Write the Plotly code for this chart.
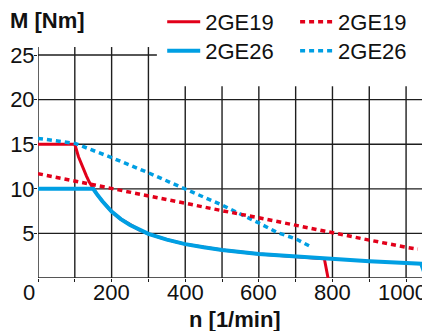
import plotly.graph_objects as go

# ---------------- data ----------------
rpm_19_solid = [0, 100, 110, 120, 132, 140, 150, 160, 175, 200, 225, 250, 275, 300, 350, 400, 450, 500, 600, 700, 778, 788]
m_19_solid   = [15, 15, 13.6, 12.5, 11.4, 10.7, 10.05, 9.4, 8.6, 7.45, 6.6, 5.95, 5.4, 4.95, 4.3, 3.8, 3.45, 3.15, 2.7, 2.42, 2.15, 0]

rpm_26_solid = [0, 150, 160, 175, 200, 225, 250, 275, 300, 350, 400, 450, 500, 600, 700, 800, 900, 1000, 1041, 1055]
m_26_solid   = [10, 10, 9.4, 8.6, 7.45, 6.6, 5.95, 5.4, 4.95, 4.3, 3.8, 3.45, 3.15, 2.7, 2.42, 2.08, 1.87, 1.68, 1.6, 0]

rpm_19_dot = [0, 100, 200, 300, 400, 500, 600, 700, 800, 900, 1000, 1032]
m_19_dot   = [11.7, 10.85, 10.0, 9.2, 8.4, 7.55, 6.75, 5.9, 5.1, 4.25, 3.45, 3.24]

rpm_26_dot = [0, 100, 200, 300, 400, 500, 600, 650, 700, 737]
m_26_dot   = [15.66, 15.1, 13.5, 11.8, 9.98, 8.18, 6.17, 5.1, 4.4, 3.6]

series_names = ["2GE19", "2GE26"]

x_tick_vals = [0, 100, 200, 300, 400, 500, 600, 700, 800, 900, 1000]
x_tick_text = ["0", "", "200", "", "400", "", "600", "", "800", "", "1000"]
y_tick_vals = [5, 10, 15, 20, 25]
y_tick_text = ["5", "10", "15", "20", "25"]

x_title = "n [1/min]"
y_title = "M [Nm]"

# ---------------- style / layout ----------------
RED = "#e2001a"
BLUE = "#009fe3"
GRID = "#1e1e1e"
TXT = "#111111"
FONT = "Liberation Sans"
FS = 22
W, H = 430, 331
OFF = 8  # page body margin of the browser page
# pixel positions below are window coordinates, shifted by OFF into figure coordinates
ML = 37.7 - OFF
MT = 40 - OFF
MB = H - (278.3 - OFF)
MR = OFF
PW, PH = W - ML - MR, H - MT - MB


def px_x(p):
    return (p - OFF - ML) / PW


def px_y(p):
    return (H - MB - (p - OFF)) / PH


fig = go.Figure()

fig.add_trace(go.Scatter(x=rpm_19_solid, y=m_19_solid, mode="lines", name=series_names[0],
                         line=dict(color=RED, width=3), legend="legend"))
fig.add_trace(go.Scatter(x=rpm_26_solid, y=m_26_solid, mode="lines", name=series_names[1],
                         line=dict(color=BLUE, width=4), legend="legend3"))
fig.add_trace(go.Scatter(x=rpm_26_dot, y=m_26_dot, mode="lines", name=series_names[1],
                         line=dict(color=BLUE, width=3.5, dash="5px,4px"), legend="legend4"))
fig.add_trace(go.Scatter(x=rpm_19_dot, y=m_19_dot, mode="lines", name=series_names[0],
                         line=dict(color=RED, width=3.5, dash="5px,4px"), legend="legend2"))

# grid lines (partial, as in the reference)
shapes = []
for v in x_tick_vals:
    top = 25.9 if v <= 300 else 21.5
    shapes.append(dict(type="line", xref="x", yref="y", x0=v, x1=v, y0=0, y1=top,
                       line=dict(color=GRID, width=1.4), layer="below"))
for v in y_tick_vals:
    right = 323 if v == 25 else 1047
    shapes.append(dict(type="line", xref="x", yref="y", x0=0, x1=right, y0=v, y1=v,
                       line=dict(color=GRID, width=1.4), layer="below"))
shapes.append(dict(type="line", xref="x", yref="y", x0=0, x1=1047, y0=0, y1=0,
                   line=dict(color=GRID, width=1.4), layer="below"))

leg_common = dict(xref="paper", yref="paper", xanchor="left", yanchor="top",
                  bgcolor="rgba(0,0,0,0)", borderwidth=0, itemwidth=33,
                  font=dict(family=FONT, size=FS, color=TXT))

# x tick labels as annotations on the x scale (the "0" sits left of its tick)
x_label_shift = {0: -9, 1000: -4}
annotations = []
for v, t in zip(x_tick_vals, x_tick_text):
    if t:
        annotations.append(dict(text=t, xref="x", yref="paper", x=v, y=px_y(292.5),
                                xanchor="center", yanchor="middle", showarrow=False,
                                xshift=x_label_shift.get(v, 0),
                                font=dict(family=FONT, size=FS, color=TXT)))
annotations.append(dict(text="<b>" + x_title + "</b>", xref="paper", yref="paper",
                        x=px_x(235), y=px_y(319.5), xanchor="center", yanchor="middle",
                        showarrow=False, font=dict(family=FONT, size=FS, color=TXT)))
annotations.append(dict(text="<b>" + y_title + "</b>", xref="paper", yref="paper",
                        x=px_x(7.3), y=px_y(20.8), xanchor="left", yanchor="middle",
                        showarrow=False, font=dict(family=FONT, size=FS, color=TXT)))

fig.update_layout(
    width=W, height=H,
    margin=dict(l=ML, r=MR, t=MT, b=MB, pad=0, autoexpand=False),
    paper_bgcolor="white", plot_bgcolor="white",
    font=dict(family=FONT, size=FS, color=TXT),
    showlegend=True,
    legend=dict(x=px_x(162), y=px_y(1), **leg_common),
    legend2=dict(x=px_x(295), y=px_y(1), **leg_common),
    legend3=dict(x=px_x(162), y=px_y(30), **leg_common),
    legend4=dict(x=px_x(295), y=px_y(30), **leg_common),
    xaxis=dict(range=[0, 1065], showgrid=False, zeroline=False, showline=False,
               automargin=False, showticklabels=False,
               tickmode="array", tickvals=x_tick_vals,
               ticks="outside", ticklen=3, tickwidth=1.4, tickcolor=GRID),
    yaxis=dict(range=[0, 26.69], showgrid=False, zeroline=False, showline=False,
               automargin=False,
               tickmode="array", tickvals=y_tick_vals, ticktext=y_tick_text,
               ticks="outside", ticklen=3, tickwidth=1.4, tickcolor=GRID,
               ticklabelstandoff=-5,
               tickfont=dict(family=FONT, size=FS, color=TXT)),
    shapes=shapes,
    annotations=annotations,
)

fig.write_html("out.html")
